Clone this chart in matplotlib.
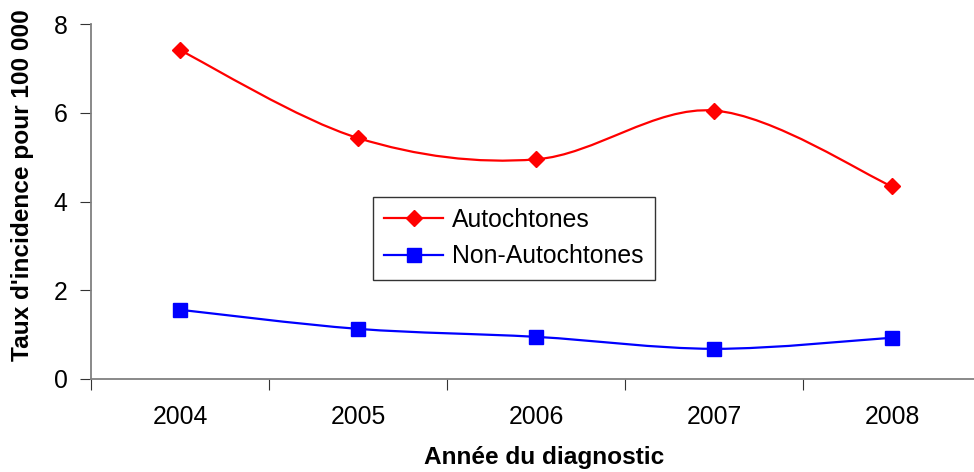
import matplotlib.pyplot as plt
from matplotlib.path import Path
from matplotlib.patches import PathPatch
from matplotlib.lines import Line2D

plt.rcParams['font.family'] = ['Liberation Sans', 'DejaVu Sans']

years = ['2004', '2005', '2006', '2007', '2008']
autochtones = [7.41, 5.43, 4.95, 6.05, 4.34]
non_autochtones = [1.56, 1.13, 0.95, 0.68, 0.93]


def smooth_path(xs, ys):
    # Excel-style smoothed line: cubic Bezier through each pair of points
    pts = list(zip(xs, ys))
    verts = [pts[0]]
    codes = [Path.MOVETO]
    n = len(pts)
    for i in range(n - 1):
        p0 = pts[i - 1] if i > 0 else pts[i]
        p1 = pts[i]
        p2 = pts[i + 1]
        p3 = pts[i + 2] if i + 2 < n else pts[i + 1]
        c1 = (p1[0] + (p2[0] - p0[0]) / 6, p1[1] + (p2[1] - p0[1]) / 6)
        c2 = (p2[0] - (p3[0] - p1[0]) / 6, p2[1] - (p3[1] - p1[1]) / 6)
        verts += [c1, c2, p2]
        codes += [Path.CURVE4] * 3
    return Path(verts, codes)


fig = plt.figure(figsize=(9.74, 4.72), dpi=100)
ax = fig.add_axes([91 / 974, 1 - 379 / 472, 890 / 974, 355 / 472])

x = list(range(len(years)))
for vals, color, marker, ms in [(autochtones, '#FF0000', 'D', 8.5),
                                (non_autochtones, '#0000FF', 's', 10)]:
    ax.add_patch(PathPatch(smooth_path(x, vals), facecolor='none',
                           edgecolor=color, lw=1.6, zorder=2))
    ax.plot(x, vals, linestyle='none', marker=marker, ms=ms, color=color, zorder=3)

ax.set_xlim(-0.5, 4.5)
ax.set_ylim(0, 8)
ax.set_yticks([0, 2, 4, 6, 8])
ax.set_xticks([i + 0.5 for i in range(-1, 5)])
ax.set_xticklabels([])
ax.set_xticks(x, labels=years, minor=True)
ax.tick_params(axis='x', which='minor', length=0, pad=19, labelsize=17.8)
ax.tick_params(axis='x', which='major', length=8, color='#333333', direction='out')
ax.tick_params(axis='y', length=8, color='#333333', labelsize=17.8, pad=9)

for s in ['top', 'right']:
    ax.spines[s].set_visible(False)
for s in ['left', 'bottom']:
    ax.spines[s].set_color('#808080')
    ax.spines[s].set_linewidth(1.3)

ax.set_xlabel('Année du diagnostic', fontsize=17.6, fontweight='bold')
ax.xaxis.set_label_coords((544 - 91) / 890, -0.19)
ax.set_ylabel("Taux d'incidence pour 100 000", fontsize=17.6, fontweight='bold')
ax.yaxis.set_label_coords(-57 / 890, (379 - 185) / 355)

handles = [Line2D([], [], color='#FF0000', marker='D', ms=8.5, lw=1.6),
           Line2D([], [], color='#0000FF', marker='s', ms=10, lw=1.6)]
leg = ax.legend(handles, ['Autochtones', 'Non-Autochtones'], loc='upper left',
                bbox_to_anchor=((373 - 91) / 890, (379 - 197) / 355),
                fontsize=17.8, frameon=True, fancybox=False, edgecolor='black',
                handlelength=2.4, borderpad=0.45, labelspacing=0.5, handletextpad=0.35,
                borderaxespad=0)
leg.get_frame().set_linewidth(1.0)

fig.savefig('out.png', dpi=100)
